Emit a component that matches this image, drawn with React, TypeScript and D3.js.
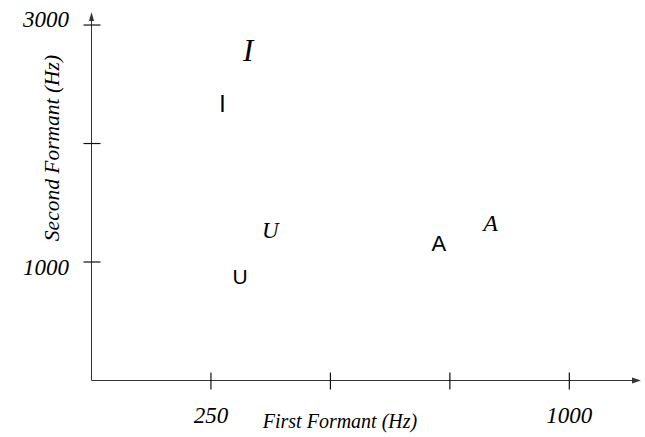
import React, { useEffect, useRef } from "react";
import * as d3 from "d3";

// vowel labels and their formant values (Hz)
const vowelLabels = ["I", "U", "A"];
const sansF1 = [274, 311, 727];
const sansF2 = [2338, 878, 1156];
const italicF1 = [328, 374, 835];
const italicF2 = [2785, 1266, 1325];
const italicSizes = [31, 23, 24];
const sansSizes = [23, 21, 22];

const xTicks = [250, 500, 750, 1000];
const xTickLabels = ["250", "", "", "1000"];
const yTicks = [1000, 2000, 3000];
const yTickLabels = ["1000", "", "3000"];

const serif = "'Liberation Serif', 'Times New Roman', serif";
const sans = "'Liberation Sans', Arial, sans-serif";

export default function App() {
  const ref = useRef<SVGSVGElement>(null);

  useEffect(() => {
    const svg = d3.select(ref.current);
    svg.selectAll("*").remove();

    const x = d3.scaleLinear().domain([0, 1150]).range([91.5, 641]);
    const y = d3.scaleLinear().domain([0, 3110]).range([380.5, 12]);

    const axisColor = "#333";

    // x axis with arrow
    svg
      .append("line")
      .attr("x1", x(0))
      .attr("x2", x(1150) - 2)
      .attr("y1", y(0))
      .attr("y2", y(0))
      .attr("stroke", axisColor)
      .attr("stroke-width", 1);
    svg
      .append("path")
      .attr(
        "d",
        `M${x(1150)},${y(0)} L${x(1150) - 9},${y(0) - 3} L${x(1150) - 9},${y(0) + 3} Z`
      )
      .attr("fill", axisColor);

    // y axis with arrow
    svg
      .append("line")
      .attr("x1", x(0))
      .attr("x2", x(0))
      .attr("y1", y(0))
      .attr("y2", y(3110) + 2)
      .attr("stroke", axisColor)
      .attr("stroke-width", 1);
    svg
      .append("path")
      .attr(
        "d",
        `M${x(0)},${y(3110)} L${x(0) - 2.5},${y(3110) + 9} L${x(0) + 2.5},${y(3110) + 9} Z`
      )
      .attr("fill", axisColor);

    // x ticks
    svg
      .selectAll(".xtick")
      .data(xTicks)
      .join("line")
      .attr("class", "xtick")
      .attr("x1", (d) => x(d))
      .attr("x2", (d) => x(d))
      .attr("y1", y(0) - 8)
      .attr("y2", y(0) + 9)
      .attr("stroke", "#111")
      .attr("stroke-width", 1.2);
    svg
      .selectAll(".xlab")
      .data(xTicks)
      .join("text")
      .attr("class", "xlab")
      .attr("x", (d) => x(d))
      .attr("y", 423)
      .attr("text-anchor", "middle")
      .attr("font-family", serif)
      .attr("font-style", "italic")
      .attr("font-size", 23)
      .text((d, i) => xTickLabels[i]);

    // y ticks
    svg
      .selectAll(".ytick")
      .data(yTicks)
      .join("line")
      .attr("class", "ytick")
      .attr("x1", x(0) - 8)
      .attr("x2", x(0) + 9)
      .attr("y1", (d) => y(d))
      .attr("y2", (d) => y(d))
      .attr("stroke", "#111")
      .attr("stroke-width", 1.2);
    svg
      .selectAll(".ylab")
      .data(yTicks)
      .join("text")
      .attr("class", "ylab")
      .attr("x", 69)
      .attr("y", (d) => (d === 3000 ? y(d) + 2 : y(d) + 13))
      .attr("text-anchor", "end")
      .attr("font-family", serif)
      .attr("font-style", "italic")
      .attr("font-size", 23)
      .text((d, i) => yTickLabels[i]);

    // axis titles
    svg
      .append("text")
      .attr("x", 340)
      .attr("y", 428)
      .attr("text-anchor", "middle")
      .attr("font-family", serif)
      .attr("font-style", "italic")
      .attr("font-size", 20)
      .text("First Formant (Hz)");
    svg
      .append("text")
      .attr("transform", "translate(59,148) rotate(-90)")
      .attr("text-anchor", "middle")
      .attr("font-family", serif)
      .attr("font-style", "italic")
      .attr("font-size", 21.5)
      .text("Second Formant (Hz)");

    // sans vowel marks
    svg
      .selectAll(".sans")
      .data(vowelLabels)
      .join("text")
      .attr("class", "sans")
      .attr("x", (d, i) => x(sansF1[i]))
      .attr("y", (d, i) => y(sansF2[i]))
      .attr("dy", "0.36em")
      .attr("text-anchor", "middle")
      .attr("font-family", sans)
      .attr("font-size", (d, i) => sansSizes[i])
      .attr("fill", "#000")
      .text((d) => d);

    // italic vowel marks
    svg
      .selectAll(".ital")
      .data(vowelLabels)
      .join("text")
      .attr("class", "ital")
      .attr("x", (d, i) => x(italicF1[i]))
      .attr("y", (d, i) => y(italicF2[i]))
      .attr("dy", "0.33em")
      .attr("text-anchor", "middle")
      .attr("font-family", serif)
      .attr("font-style", "italic")
      .attr("font-size", (d, i) => italicSizes[i])
      .attr("fill", "#000")
      .text((d) => d);
  }, []);

  return (
    <svg
      ref={ref}
      width={645}
      height={437}
      style={{ position: "absolute", left: 0, top: 0, background: "#fff" }}
    />
  );
}
